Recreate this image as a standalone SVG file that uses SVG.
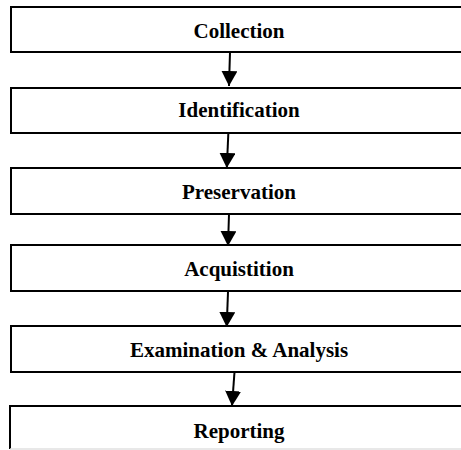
<svg xmlns="http://www.w3.org/2000/svg" width="461" height="450" viewBox="0 0 461 450">
<style>
.box{fill:#fff;stroke:#000;stroke-width:2}
.lbl{font-family:"Liberation Serif","Times New Roman",serif;font-weight:bold;font-size:21px;text-anchor:middle;fill:#000}
.conn{stroke:#000;stroke-width:2;fill:none}
</style>
<defs>
<marker id="ah" markerUnits="userSpaceOnUse" markerWidth="16" markerHeight="16" refX="15" refY="8" orient="auto">
<path d="M0,0 L15,8 L0,16 Z" fill="#000"/>
</marker>
</defs>
<rect width="461" height="450" fill="#fff"/>
<g id="n1"><rect class="box" x="11" y="7" width="460" height="45"/><text class="lbl" x="239" y="38">Collection</text></g>
<g id="n2"><rect class="box" x="11" y="88" width="460" height="45"/><text class="lbl" x="239" y="117">Identification</text></g>
<g id="n3"><rect class="box" x="11" y="168" width="460" height="46"/><text class="lbl" x="239" y="199">Preservation</text></g>
<g id="n4"><rect class="box" x="11" y="245" width="460" height="46"/><text class="lbl" x="239" y="276">Acquistition</text></g>
<g id="n5"><rect class="box" x="11" y="326" width="460" height="46"/><text class="lbl" x="239" y="357">Examination &amp; Analysis</text></g>
<g id="n6"><path d="M10,449 L10,406 L471,406" class="conn"/><line x1="10" y1="449" x2="461" y2="449" stroke="#e0e0e0" stroke-width="1.5"/><text class="lbl" x="239" y="438">Reporting</text></g>
<g id="connectors">
<line class="conn" x1="230" y1="52" x2="229" y2="86" marker-end="url(#ah)"/>
<line class="conn" x1="228.3" y1="134" x2="226.8" y2="168" marker-end="url(#ah)"/>
<line class="conn" x1="229" y1="214" x2="228" y2="246" marker-end="url(#ah)"/>
<line class="conn" x1="228" y1="292" x2="226.7" y2="327" marker-end="url(#ah)"/>
<line class="conn" x1="234.5" y1="372" x2="232" y2="406" marker-end="url(#ah)"/>
</g>
</svg>
